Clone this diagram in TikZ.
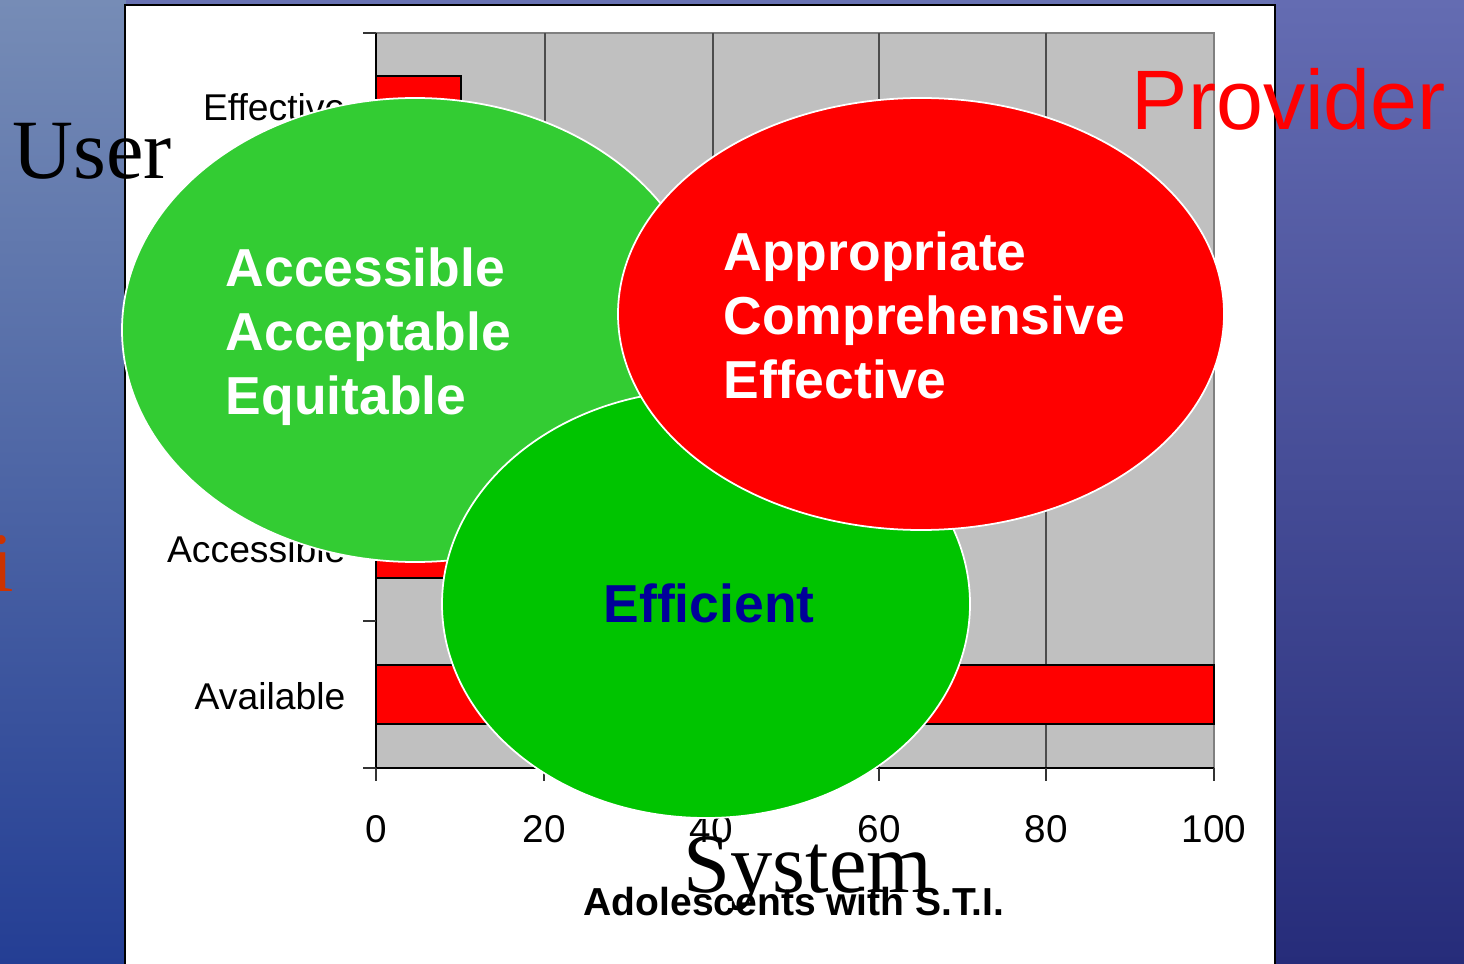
\documentclass[tikz,border=0pt]{standalone}
\usepackage{fontspec}
\setmainfont{Liberation Serif}
\setsansfont{Liberation Sans}
\usetikzlibrary{positioning}
\definecolor{seatopl}{RGB}{118,140,182}
\definecolor{seamidl}{RGB}{58,104,168}
\definecolor{seabotl}{RGB}{36,62,148}
\definecolor{seatopr}{RGB}{100,108,178}
\definecolor{seamidr}{RGB}{54,62,146}
\definecolor{seabotr}{RGB}{38,44,122}
\definecolor{plotgray}{RGB}{192,192,192}
\definecolor{usergreen}{RGB}{51,204,51}
\definecolor{sysgreen}{RGB}{0,196,0}
\definecolor{effblue}{RGB}{0,0,153}
\definecolor{iorange}{RGB}{204,51,0}
\tikzset{
  bar/.style={fill=red, draw=black, line width=0.6pt},
  catlabel/.style={font=\sffamily\fontsize{10.6}{10.6}\selectfont, anchor=base east, inner sep=0pt},
  ticklabel/.style={font=\sffamily\fontsize{11}{11}\selectfont, anchor=base, inner sep=0pt},
  bubble/.style={draw=white, line width=0.5pt},
  bubbletext/.style={font=\sffamily\bfseries\fontsize{15.2}{18.2}\selectfont, text=white, align=left, anchor=base west, inner sep=0pt},
  bigword/.style={font=\fontsize{24}{24}\selectfont, inner sep=0pt}
}

\begin{document}
\begin{tikzpicture}[x=0.01cm, y=-0.01cm]
  \useasboundingbox (0,0) rectangle (1464,964);

  % sea behind the slide
  \shade[top color=seatopl, middle color=seamidl, bottom color=seabotl] (0,0) rectangle (126,964);
  \shade[top color=seatopr, middle color=seamidr, bottom color=seabotr] (1274,0) rectangle (1464,964);
  \fill[seatopr!80!seatopl] (126,0) rectangle (1274,6);

  % white panel of the chart
  \draw[fill=white, line width=0.4pt] (125,5) rectangle (1275,975);

  % plot area
  \draw[fill=plotgray, draw=gray, line width=0.5pt] (376,33) rectangle (1214,768);
  \foreach \x in {545,713,879,1046}
    \draw[black!70, line width=0.3pt] (\x,33) -- (\x,768);

  % bars
  \draw[bar] (376,76) rectangle (461,135);
  \draw[bar] (376,519) rectangle (713,578);
  \draw[bar] (376,665) rectangle (1214,724);

  % axes and ticks
  \draw[black, line width=0.5pt] (376,33) -- (376,768) -- (1214,768);
  \foreach \y in {33,180,327,474,621,768}
    \draw[black!80, line width=0.4pt] (363,\y) -- (376,\y);
  \foreach \x/\v in {376/0,544/20,711/40,879/60,1046/80,1214/100} {
    \draw[black!80, line width=0.4pt] (\x,768) -- (\x,781);
    \node[ticklabel] (tick\v) at (\x,842) {\v};
  }

  % category labels
  \node[catlabel] (effective) at (346,121) {Effective};
  \node[catlabel] (accessible) at (346,562) {Accessible};
  \node[catlabel] (available) at (346,709) {Available};

  % axis title
  \node[font=\sffamily\bfseries\fontsize{11.1}{11.1}\selectfont, anchor=base, inner sep=0pt] (xtitle) at (794,915) {Adolescents with S.T.I.};

  % user bubble
  \draw[bubble, fill=usergreen] (415,330) ellipse (293 and 232);
  \node[bubbletext] (userlist) at (225,415) {Accessible\\Acceptable\\Equitable};

  % system bubble
  \draw[bubble, fill=sysgreen] (706,604) ellipse (264 and 214);
  \node[bubbletext, text=effblue] (syslist) at (603,622) {Efficient};

  % provider bubble
  \draw[bubble, fill=red] (921,314) ellipse (303 and 216);
  \node[bubbletext] (provlist) at (723,399) {Appropriate\\Comprehensive\\Effective};

  % corner words
  \node[bigword, anchor=base west] (user) at (12,179) {User};
  \node[bigword, anchor=base west, font=\sffamily\fontsize{24}{24}\selectfont, text=red] (provider) at (1131,130) {Provider};
  \node[bigword, anchor=base] (system) at (808,892) {System};
  \node[bigword, anchor=base east, text=iorange] (cuti) at (15,591) {i};
\end{tikzpicture}
\end{document}
